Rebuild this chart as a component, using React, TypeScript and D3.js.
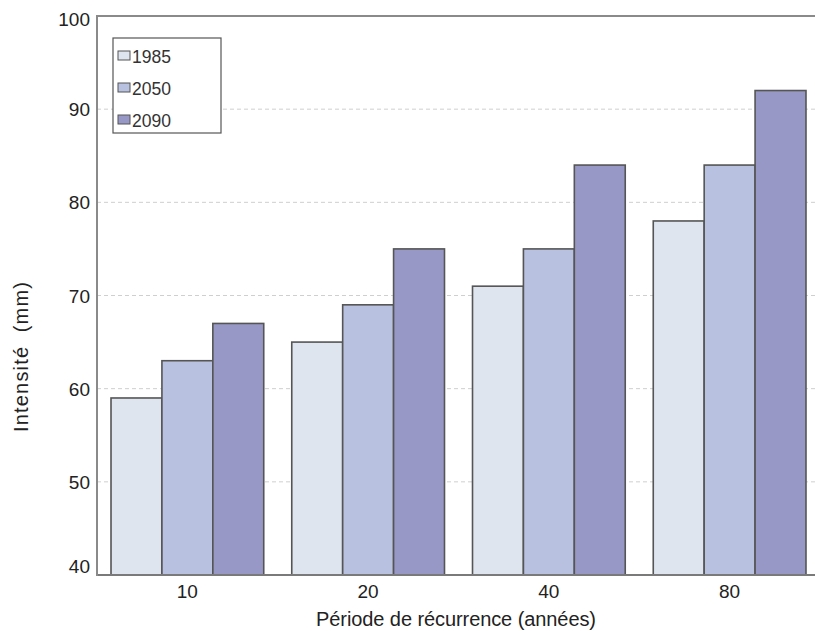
import React from "react";
import * as d3 from "d3";

const periods = ["10", "20", "40", "80"];
const seriesNames = ["1985", "2050", "2090"];
const values1985 = [59, 65, 71, 78];
const values2050 = [63, 69, 75, 84];
const values2090 = [67, 75, 84, 92];
const yTicks = [40, 50, 60, 70, 80, 90, 100];
const colors = ["#dee5ee", "#b8c1df", "#9898c6"];

const W = 815;
const H = 631;
const left = 97;
const right = 820;
const top = 16;
const bottom = 575;

export default function App() {
  const series = [values1985, values2050, values2090];
  const x = d3.scaleBand<string>().domain(periods).range([left, right]).paddingInner(0.155).paddingOuter(0.0775);
  const xs = d3.scaleBand<string>().domain(seriesNames).range([0, x.bandwidth()]);
  const y = d3.scaleLinear().domain([40, 100]).range([bottom, top]);
  const font = "'Liberation Sans', Arial, sans-serif";

  return (
    <svg width={W} height={H} style={{ position: "fixed", left: 0, top: 0, background: "#fff" }}>
      <rect x={0} y={0} width={W} height={H} fill="#fff" />
      {yTicks.slice(1, -1).map((t) => (
        <line key={t} x1={left} x2={W} y1={y(t)} y2={y(t)} stroke="#cfcfcf" strokeWidth={1} strokeDasharray="4 3" />
      ))}
      {periods.map((p, i) =>
        series.map((vals, s) => (
          <rect
            key={p + s}
            x={(x(p) as number) + (xs(seriesNames[s]) as number)}
            y={y(vals[i])}
            width={xs.bandwidth()}
            height={bottom - y(vals[i])}
            fill={colors[s]}
            stroke="#555"
            strokeWidth={1.6}
          />
        ))
      )}
      <line x1={left} x2={W} y1={top} y2={top} stroke="#8a8a8a" strokeWidth={2} />
      <line x1={left} x2={W} y1={bottom} y2={bottom} stroke="#7a7a7a" strokeWidth={2} />
      <line x1={left} x2={left} y1={top - 1} y2={bottom + 1} stroke="#8a8a8a" strokeWidth={2} />
      {yTicks.map((t) => (
        <text key={t} x={90} y={Math.min(Math.max(y(t) + 7, 26), 573)} textAnchor="end" fontFamily={font} fontSize={19} fill="#222">
          {t}
        </text>
      ))}
      {periods.map((p) => (
        <text key={p} x={(x(p) as number) + x.bandwidth() / 2} y={598} textAnchor="middle" fontFamily={font} fontSize={19} fill="#222">
          {p}
        </text>
      ))}
      <text x={456} y={626} textAnchor="middle" fontFamily={font} fontSize={20} fill="#222" textLength={280} lengthAdjust="spacing">
        Période de récurrence (années)
      </text>
      <text
        transform="translate(28,357) rotate(-90)"
        textAnchor="middle"
        fontFamily={font}
        fontSize={20}
        fill="#222"
        style={{ whiteSpace: "pre" }}
        textLength={150}
        lengthAdjust="spacing"
      >
        {"Intensité  (mm)"}
      </text>
      <g>
        <rect x={113} y={38} width={108} height={95} fill="#fff" stroke="#555" strokeWidth={1.2} />
        {seriesNames.map((n, i) => (
          <g key={n}>
            <rect x={118} y={51 + i * 32} width={12} height={9} fill={colors[i]} stroke="#555" strokeWidth={1} />
            <text x={132} y={63 + i * 32} fontFamily={font} fontSize={18} fill="#333" textLength={39} lengthAdjust="spacingAndGlyphs">
              {n}
            </text>
          </g>
        ))}
      </g>
    </svg>
  );
}
